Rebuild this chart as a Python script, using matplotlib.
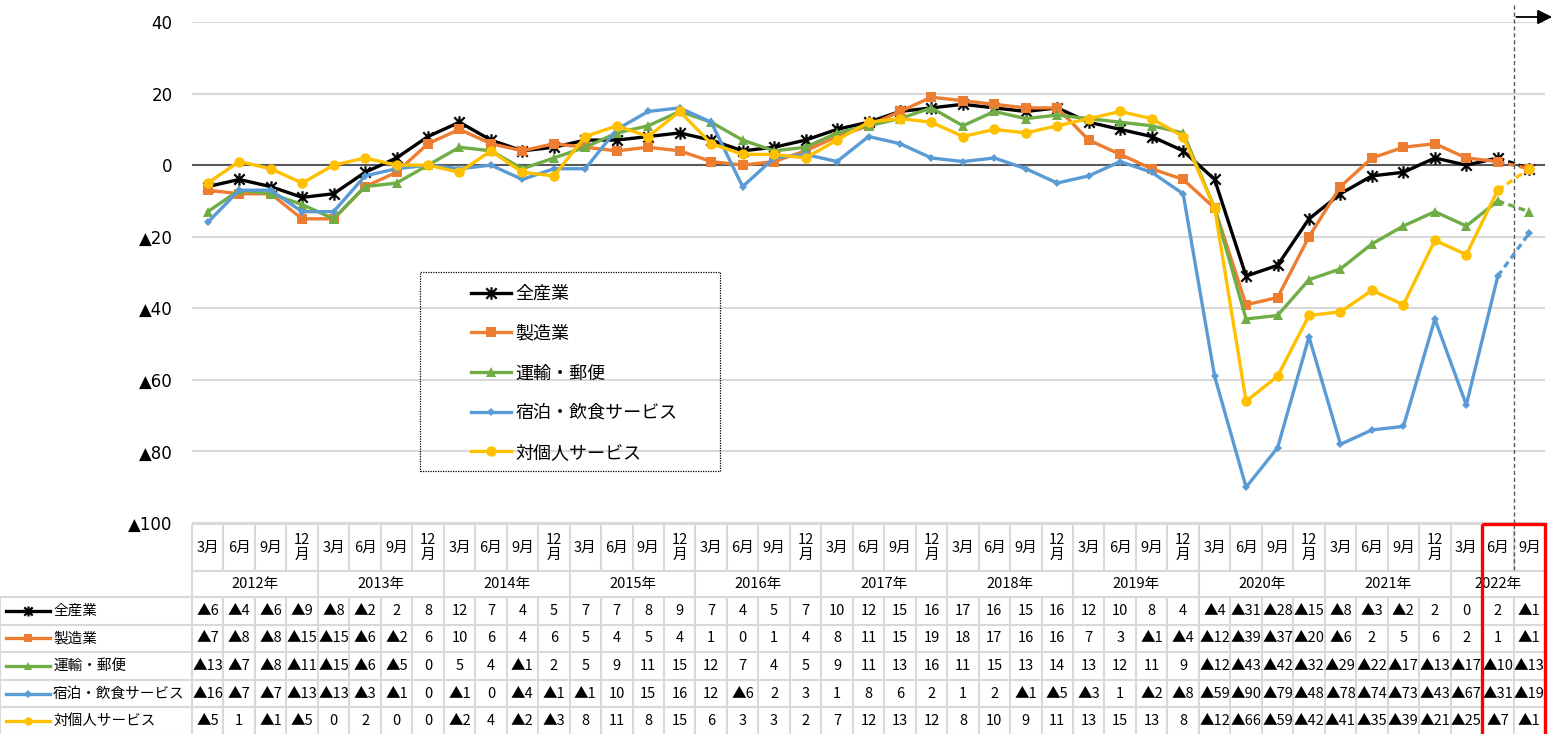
import numpy as np
import matplotlib.pyplot as plt
from matplotlib.path import Path
from matplotlib.patches import Rectangle
from matplotlib.lines import Line2D

plt.rcParams['font.family'] = ['Noto Sans CJK JP', 'DejaVu Sans']

# データ (2012年3月～2022年9月, 四半期)
years = ['2012年', '2013年', '2014年', '2015年', '2016年', '2017年',
         '2018年', '2019年', '2020年', '2021年', '2022年']
quarters = ['3月', '6月', '9月', '12月']

all_ind = [-6, -4, -6, -9, -8, -2, 2, 8, 12, 7, 4, 5, 7, 7, 8, 9,
           7, 4, 5, 7, 10, 12, 15, 16, 17, 16, 15, 16, 12, 10, 8, 4,
           -4, -31, -28, -15, -8, -3, -2, 2, 0, 2, -1]
manuf = [-7, -8, -8, -15, -15, -6, -2, 6, 10, 6, 4, 6, 5, 4, 5, 4,
         1, 0, 1, 4, 8, 11, 15, 19, 18, 17, 16, 16, 7, 3, -1, -4,
         -12, -39, -37, -20, -6, 2, 5, 6, 2, 1, -1]
transport = [-13, -7, -8, -11, -15, -6, -5, 0, 5, 4, -1, 2, 5, 9, 11, 15,
             12, 7, 4, 5, 9, 11, 13, 16, 11, 15, 13, 14, 13, 12, 11, 9,
             -12, -43, -42, -32, -29, -22, -17, -13, -17, -10, -13]
hotel_food = [-16, -7, -7, -13, -13, -3, -1, 0, -1, 0, -4, -1, -1, 10, 15, 16,
              12, -6, 2, 3, 1, 8, 6, 2, 1, 2, -1, -5, -3, 1, -2, -8,
              -59, -90, -79, -48, -78, -74, -73, -43, -67, -31, -19]
personal = [-5, 1, -1, -5, 0, 2, 0, 0, -2, 4, -2, -3, 8, 11, 8, 15,
            6, 3, 3, 2, 7, 12, 13, 12, 8, 10, 9, 11, 13, 15, 13, 8,
            -12, -66, -59, -42, -41, -35, -39, -21, -25, -7, -1]

series_names = ['全産業', '製造業', '運輸・郵便', '宿泊・飲食サービス', '対個人サービス']
series_vals = [all_ind, manuf, transport, hotel_food, personal]
colors = ['#000000', '#ED7D31', '#70AD47', '#5B9BD5', '#FFC000']

y_ticks = [40, 20, 0, -20, -40, -60, -80, -100]

# Excelの「*」マーカー (×と縦線)
star_x = Path([(-1, -1), (1, 1), (-1, 1), (1, -1), (0, -1.2), (0, 1.2)],
              [Path.MOVETO, Path.LINETO, Path.MOVETO, Path.LINETO, Path.MOVETO, Path.LINETO])
markers = [dict(marker=star_x, ms=9, mew=1.6, mfc='none'),
           dict(marker='s', ms=7.5, mew=0),
           dict(marker='^', ms=6.5, mew=0),
           dict(marker='D', ms=4.5, mew=0),
           dict(marker='o', ms=7.5, mew=0)]


def fmt(v):
    return f'▲{abs(v)}' if v < 0 else str(v)


W, H = 1556, 734
fig = plt.figure(figsize=(W / 100, H / 100), dpi=100)

x0_px, x1_px = 192, 1545
n = len(all_ind)
col_w = (x1_px - x0_px) / n


def px2u(p):
    return (p - x0_px) / col_w - 0.5


ax = fig.add_axes([x0_px / W, 1 - 523 / H, (x1_px - x0_px) / W, (523 - 22) / H])
x = np.arange(n)

for name, vals, c, mk in zip(series_names, series_vals, colors, markers):
    ax.plot(x[:-1], vals[:-1], color=c, lw=2.4, mec=c, mfc=mk.get('mfc', c),
            marker=mk['marker'], ms=mk['ms'], mew=mk['mew'], label=name, zorder=3)
    ax.plot(x[-2:], vals[-2:], color=c, lw=2.4, ls=(0, (2, 1.3)), mec=c,
            mfc=mk.get('mfc', c), marker=mk['marker'], ms=mk['ms'], mew=mk['mew'],
            markevery=[1], zorder=3)

ax.set_xlim(-0.5, n - 0.5)
ax.set_ylim(-100, 40)
ax.set_yticks(y_ticks)
ax.set_yticklabels([fmt(v) for v in y_ticks], family=['DejaVu Sans'], fontsize=12)
ax.set_xticks([])
ax.tick_params(axis='y', length=0, pad=14)
for s in ax.spines.values():
    s.set_visible(False)
for v in y_ticks:
    if v == 0:
        ax.axhline(v, color='#595959', lw=1.5, zorder=2)
    else:
        ax.axhline(v, color='#D9D9D9', lw=1.5, zorder=1)

# 2022年6月の区切りと矢印
ax.plot([n - 1.5, n - 1.5], [44.8, -100], color='#595959', lw=1, ls=(0, (3, 2)),
        clip_on=False, zorder=4)
ax.annotate('', xy=(px2u(1555), 41.4), xytext=(n - 1.5, 41.4), annotation_clip=False,
            arrowprops=dict(arrowstyle='-|>', color='black', lw=1.3, mutation_scale=22))

# 凡例
handles = [Line2D([], [], color=c, lw=2.4, marker=mk['marker'], ms=mk['ms'], mew=mk['mew'],
                  mec=c, mfc=mk.get('mfc', c)) for c, mk in zip(colors, markers)]
fig.legend(handles, series_names, loc='upper left', frameon=False, fontsize=13,
           bbox_to_anchor=(471 / W, 1 - 285 / H), handlelength=2.2, handletextpad=0.25,
           labelspacing=1.2, borderpad=0, borderaxespad=0)
fig.patches.append(Rectangle((420 / W, 1 - 471 / H), 300 / W, 199 / H, transform=fig.transFigure,
                             fill=False, ec='black', lw=0.9, ls=(0, (1, 1))))

# データテーブル
tax = fig.add_axes([0, 0, x1_px / W, (H - 523) / H])
tax.set_xlim(px2u(0), n - 0.5)
tax.set_ylim(H, 523)
tax.axis('off')
gc = '#D9D9D9'
top, mrow, yrow = 524, 571, 597
row_h = 27.6
left = px2u(0)
fs = 10.5

month_labels = (quarters * len(years))[:n]
for i, m in enumerate(month_labels):
    lab = '12\n月' if m == '12月' else m
    tax.text(i, (top + mrow) / 2, lab, ha='center', va='center', fontsize=fs, linespacing=1.0)
tax.vlines(np.arange(n + 1) - 0.5, top, mrow, color=gc, lw=1.5)

year_starts = list(range(0, n, 4)) + [n]
for k, yl in enumerate(years):
    a, b = year_starts[k], year_starts[k + 1]
    tax.text((a + b - 1) / 2, (mrow + yrow) / 2, yl, ha='center', va='center', fontsize=fs)
tax.vlines(np.array(year_starts) - 0.5, mrow, yrow, color=gc, lw=1.5)

tax.hlines([top, mrow], -0.5, n - 0.5, color=gc, lw=1.5)
row_edges = [yrow + r * row_h for r in range(len(series_names) + 1)]
tax.hlines(row_edges, left, n - 0.5, color=gc, lw=1.5)
tax.vlines(np.arange(n + 1) - 0.5, yrow, H, color=gc, lw=1.5)
tax.vlines([left], yrow, H, color=gc, lw=1.5)

for r, (name, vals, c, mk) in enumerate(zip(series_names, series_vals, colors, markers)):
    yc = yrow + (r + 0.5) * row_h
    tax.plot([px2u(6), px2u(50)], [yc, yc], color=c, lw=2.4)
    tax.plot([px2u(28)], [yc], color=c, marker=mk['marker'], ms=mk['ms'] * 0.8,
             mew=mk['mew'], mec=c, mfc=mk.get('mfc', c))
    tax.text(px2u(53), yc, name, ha='left', va='center', fontsize=10.5)
    for i, v in enumerate(vals):
        tax.text(i, yc, fmt(v), ha='center', va='center', fontsize=fs)

tax.plot([n - 1.5, n - 1.5], [top, mrow], color='#595959', lw=1, ls=(0, (3, 2)))
tax.add_patch(Rectangle((n - 2.5, top), 2, H - top + 5, fill=False, ec='#FF0000', lw=2.4,
                        clip_on=False, zorder=5))

fig.savefig('out.png', dpi=100)
